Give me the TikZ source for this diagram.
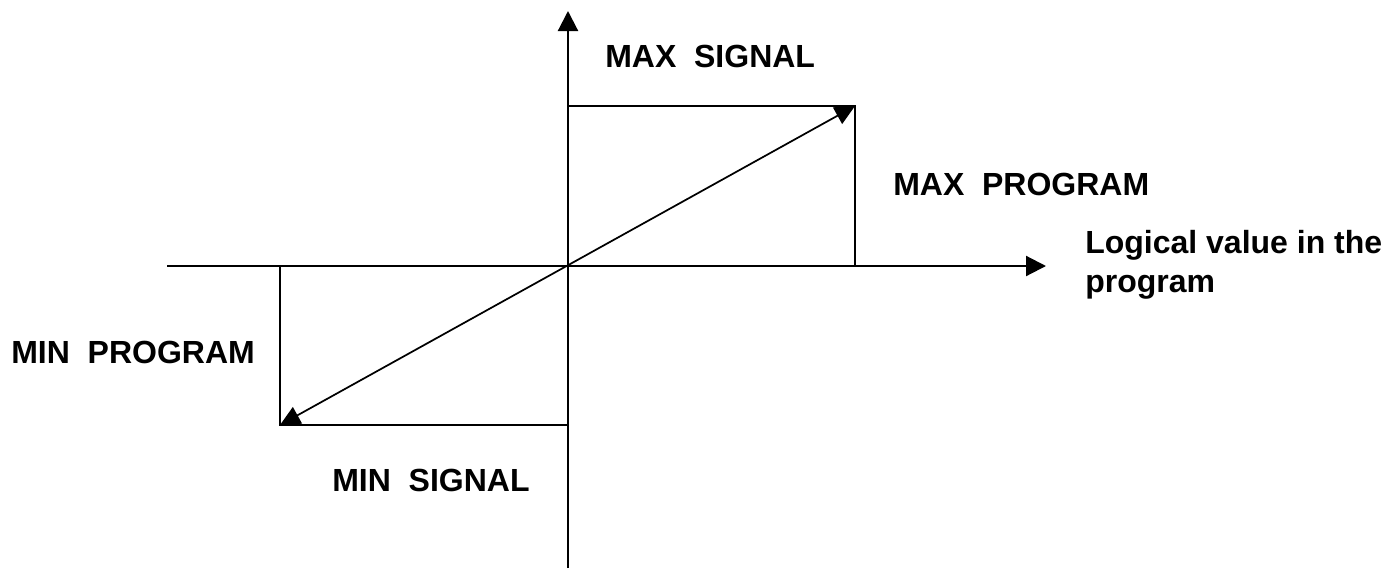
\documentclass[tikz,border=0pt]{standalone}
\usepackage{fontspec}
\setmainfont{Liberation Sans}
\usetikzlibrary{arrows.meta, positioning}

\begin{document}
\begin{tikzpicture}[
  x=0.75pt, y=-0.75pt,
  axis/.style={line width=1.6pt, -{Triangle[length=15pt, width=15pt]}},
  frame/.style={line width=1.5pt},
  vector/.style={line width=1.3pt, {Triangle[length=15pt, width=14pt]}-{Triangle[length=15pt, width=14pt]}},
  lbl/.style={anchor=base west, inner sep=0pt, align=left,
    font=\fontsize{24}{29}\selectfont\bfseries}
]
\useasboundingbox (0,0) rectangle (1385,568);

% axes
\coordinate (o) at (568,266);
\coordinate (xstart) at (167,266);
\coordinate (xend) at (1046,266);
\coordinate (ystart) at (568,568);
\coordinate (yend) at (568,11);
\draw[axis] (xstart) -- (xend);
\draw[axis] (ystart) -- (yend);

% limits
\coordinate (maxpt) at (855,106);
\coordinate (minpt) at (280,425);
\draw[frame] (o |- maxpt) -- (maxpt) -- (maxpt |- o);
\draw[frame] (o |- minpt) -- (minpt) -- (minpt |- o);
\draw[vector] (minpt) -- (maxpt);

% labels
\node[lbl] (maxsig) at (605,67) {MAX\ \ SIGNAL};
\node[lbl] (maxprog) at (893,195) {MAX\ \ PROGRAM};
\node[lbl] (xlabel) at (1085,292) {Logical value in the\\program};
\node[lbl] (minprog) at (11,363) {MIN\ \ PROGRAM};
\node[lbl] (minsig) at (332,491) {MIN\ \ SIGNAL};
\end{tikzpicture}
\end{document}
